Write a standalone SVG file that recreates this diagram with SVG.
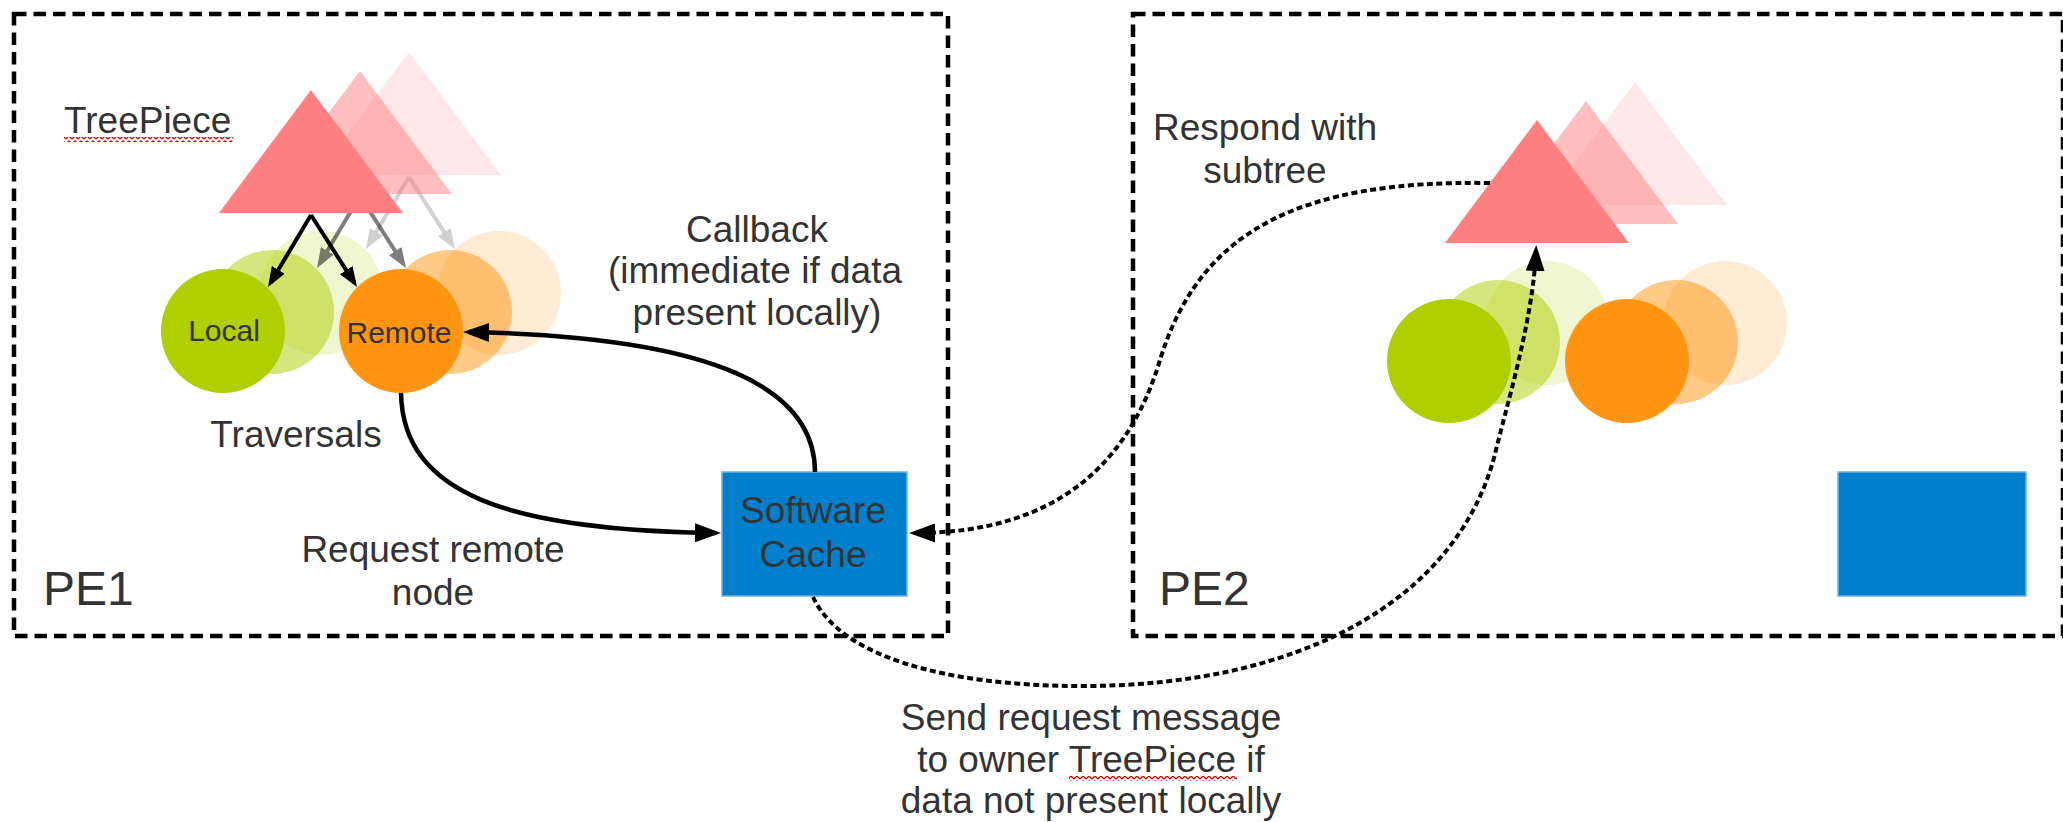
<svg xmlns="http://www.w3.org/2000/svg" xmlns:xlink="http://www.w3.org/1999/xlink" width="2063" height="822" viewBox="0 0 2063 822">
  <style>
    .lbl { font-family: "Liberation Sans", Arial, sans-serif; font-size: 37px; fill: #333333; }
    .mid { text-anchor: middle; }
    .pe { font-size: 48px; }
    .small { font-size: 30px; }
    .frame { fill: none; stroke: #000; stroke-width: 4.5; stroke-dasharray: 12.5 7; }
    .cache { fill: #0080cc; stroke: #6cb4e4; stroke-width: 1.5; }
    .solid { fill: none; stroke: #000; stroke-width: 4.5; }
    .dotted { fill: none; stroke: #000; stroke-width: 4; stroke-dasharray: 6 3.5; }
    .thin { fill: none; stroke: #000; stroke-width: 4; }
  </style>
  <defs>
    <marker id="head-sm" viewBox="0 0 20 15" refX="15" refY="7.5" markerWidth="20" markerHeight="15" markerUnits="userSpaceOnUse" orient="auto">
      <path d="M0 0 L20 7.5 L0 15 Z" fill="#000"/>
    </marker>
    <marker id="head-lg" viewBox="0 0 26 19" refX="20" refY="9.5" markerWidth="26" markerHeight="19" markerUnits="userSpaceOnUse" orient="auto">
      <path d="M0 0 L26 9.5 L0 19 Z" fill="#000"/>
    </marker>
    <pattern id="squiggle" width="6" height="5" patternUnits="userSpaceOnUse">
      <path d="M0 4 L3 1 L6 4" fill="none" stroke="#e00000" stroke-width="1.3"/>
    </pattern>
    <!-- one tree piece: its subtree triangle and its two traversal discs -->
    <g id="tp-shape">
      <polygon points="311,90 403,213 219,213" fill="#ff8080"/>
      <circle cx="223" cy="331" r="62" fill="#afcf00"/>
      <circle cx="401" cy="331" r="62" fill="#ff9510"/>
    </g>
    <g id="tp-arrows">
      <path class="thin" d="M311 215 L270.6 282.7" marker-end="url(#head-sm)"/>
      <path class="thin" d="M311 215 L354.3 282.8" marker-end="url(#head-sm)"/>
    </g>
  </defs>

  <rect width="2063" height="822" fill="#ffffff"/>

  <!-- processing element 1 -->
  <g id="pe1">
    <rect class="frame" x="14" y="14" width="934" height="622"/>
    <text class="lbl pe" x="43" y="605">PE1</text>
  </g>

  <!-- processing element 2 -->
  <g id="pe2">
    <rect class="frame" x="1133" y="14" width="930" height="622"/>
    <text class="lbl pe" x="1159" y="605">PE2</text>
  </g>

  <!-- tree pieces on PE1, back copies fading out -->
  <g id="pe1-treepieces">
    <g opacity="0.18" transform="translate(98,-38)">
      <use xlink:href="#tp-shape"/>
      <use xlink:href="#tp-arrows"/>
    </g>
    <g opacity="0.5" transform="translate(49,-19)">
      <use xlink:href="#tp-shape"/>
      <use xlink:href="#tp-arrows"/>
    </g>
    <use xlink:href="#tp-shape"/>
    <use xlink:href="#tp-arrows"/>
    <text class="lbl small mid" x="224" y="341">Local</text>
    <text class="lbl small mid" x="399" y="343">Remote</text>
  </g>

  <g id="treepiece-label">
    <text class="lbl" x="64" y="133" style="font-size:37px">TreePiece</text>
    <rect x="64" y="137" width="169" height="5" fill="url(#squiggle)"/>
  </g>

  <g id="traversals-label">
    <text class="lbl mid" x="296" y="447">Traversals</text>
  </g>

  <!-- tree pieces on PE2 -->
  <g id="pe2-treepieces" transform="translate(1226,30)">
    <g opacity="0.18" transform="translate(98,-38)">
      <use xlink:href="#tp-shape"/>
    </g>
    <g opacity="0.5" transform="translate(49,-19)">
      <use xlink:href="#tp-shape"/>
    </g>
    <use xlink:href="#tp-shape"/>
  </g>

  <!-- software caches -->
  <g id="cache-pe1">
    <rect class="cache" x="722" y="472" width="185" height="124"/>
    <text class="lbl mid" x="813" y="523">Software</text>
    <text class="lbl mid" x="813" y="567">Cache</text>
  </g>
  <g id="cache-pe2">
    <rect class="cache" x="1838" y="472" width="188" height="124"/>
  </g>

  <!-- connectors -->
  <g id="connectors">
    <path id="request" class="solid" d="M401 393 C403 495 510 530 715 533" marker-end="url(#head-lg)"/>
    <path id="callback" class="solid" d="M815 472 C815 390 720 337 469 332" marker-end="url(#head-lg)"/>
    <path id="respond" class="dotted" d="M1490 183 C1300 180 1200 230 1160 360 C1130 460 1060 533 915 533" marker-end="url(#head-lg)"/>
    <path id="send" class="dotted" d="M813 597 C840 655 940 686 1083 686 C1300 686 1460 600 1496 450 C1506 408 1533 320 1536 251" marker-end="url(#head-lg)"/>
  </g>

  <!-- connector labels -->
  <g id="labels">
    <text class="lbl mid" x="757" y="242">Callback</text>
    <text class="lbl mid" x="755" y="283">(immediate if data</text>
    <text class="lbl mid" x="757" y="325">present locally)</text>

    <text class="lbl mid" x="433" y="562">Request remote</text>
    <text class="lbl mid" x="433" y="605">node</text>

    <text class="lbl mid" x="1265" y="140">Respond with</text>
    <text class="lbl mid" x="1265" y="183">subtree</text>

    <text class="lbl mid" x="1091" y="730">Send request message</text>
    <text class="lbl mid" x="1091" y="772">to owner TreePiece if</text>
    <rect x="1069" y="776" width="168" height="5" fill="url(#squiggle)"/>
    <text class="lbl mid" x="1091" y="813">data not present locally</text>
  </g>
</svg>
